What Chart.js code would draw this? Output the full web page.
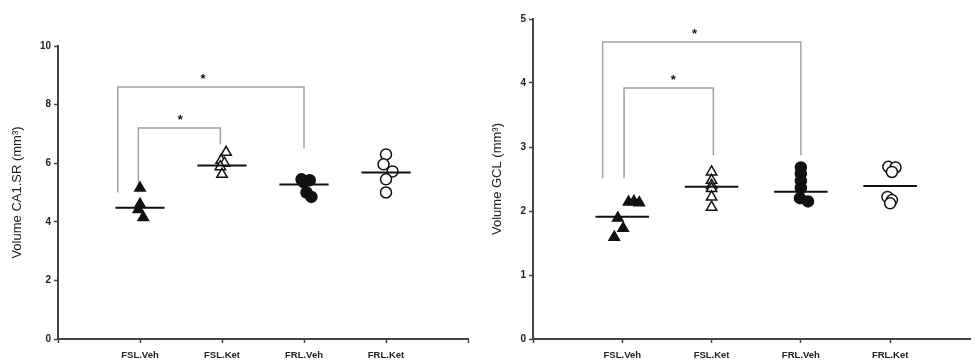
<!DOCTYPE html>
<html>
<head>
<meta charset="utf-8">
<script src="https://cdn.jsdelivr.net/npm/chart.js@4"></script>
<style>
  body { margin: 0; background: #fff; }
  #wrap { position: relative; width: 978px; height: 362px; overflow: hidden; }
  canvas { position: absolute; top: 0; }
  #leftChart { left: 0; }
  #rightChart { left: 480px; }
</style>
</head>
<body>
<div id="wrap">
  <canvas id="leftChart" width="480" height="362"></canvas>
  <canvas id="rightChart" width="498" height="362"></canvas>
</div>
<script>
const categories = ["FSL.Veh", "FSL.Ket", "FRL.Veh", "FRL.Ket"];

// CA1.SR volume (mm3), one array per group
const ca1Values = [
    [5.15, 4.6, 4.42, 4.15],
    [6.37, 6.1, 6.0, 5.88, 5.62],
    [5.45, 5.42, 5.35, 5.0, 4.85],
    [6.3, 5.96, 5.72, 5.45, 5.0]
];
const ca1Jitter = [
    [0.0, 0.0, -0.02, 0.04],
    [0.05, -0.01, 0.03, -0.02, 0.0],
    [-0.03, 0.07, 0.0, 0.03, 0.09],
    [0.0, -0.03, 0.08, 0.0, 0.0]
];
const ca1Means = [4.48, 5.92, 5.27, 5.68];

// GCL volume (mm3)
const gclValues = [
    [2.14, 2.15, 2.13, 1.89, 1.73, 1.59],
    [2.61, 2.48, 2.40, 2.35, 2.22, 2.06],
    [2.68, 2.58, 2.47, 2.36, 2.20, 2.15],
    [2.69, 2.68, 2.61, 2.22, 2.17, 2.12]
];
const gclJitter = [
    [0.07, 0.13, 0.19, -0.05, 0.01, -0.09],
    [0.0, 0.0, 0.0, 0.0, 0.0, 0.0],
    [0.0, 0.0, 0.0, 0.0, -0.01, 0.08],
    [-0.02, 0.06, 0.02, -0.03, 0.02, 0.0]
];
const gclMeans = [1.91, 2.38, 2.30, 2.39];

// significance brackets: [xLeft, yLeft, yTop, xRight, yRight]
const ca1Brackets = [[0.73, 5.0, 8.6, 3.0, 6.5], [0.98, 5.0, 7.2, 1.98, 6.65]];
const ca1Stars = [[1.77, 8.95], [1.49, 7.55]];
const gclBrackets = [[0.78, 2.51, 4.64, 3.0, 2.87], [1.02, 2.51, 3.92, 2.02, 2.87]];
const gclStars = [[1.81, 4.8], [1.57, 4.08]];

const markerStyles = [
    { pointStyle: "triangle", fill: "#111", radius: 6 },
    { pointStyle: "triangle", fill: "#fff", radius: 6 },
    { pointStyle: "circle", fill: "#111", radius: 5.5 },
    { pointStyle: "circle", fill: "#fff", radius: 5.5 }
];

const starPlugin = {
    id: "stars",
    afterDatasetsDraw(chart, args, opts) {
        const c = chart.ctx;
        c.save();
        c.fillStyle = "#111";
        c.font = "bold 13px 'Liberation Sans', Arial, sans-serif";
        c.textAlign = "center";
        c.textBaseline = "middle";
        opts.points.forEach(p => {
            c.fillText("*", chart.scales.x.getPixelForValue(p[0]), chart.scales.y.getPixelForValue(p[1]) + 3);
        });
        c.restore();
    }
};

function makeChart(id, cfg) {
    const datasets = [];
    cfg.values.forEach((vals, i) => {
        const m = markerStyles[i];
        datasets.push({
            type: "scatter",
            data: vals.map((v, j) => ({ x: i + 1 + cfg.jitter[i][j], y: v })),
            pointStyle: m.pointStyle,
            pointRadius: m.radius,
            pointBackgroundColor: m.fill,
            pointBorderColor: "#111",
            pointBorderWidth: 1.5,
            order: 2
        });
        datasets.push({
            type: "line",
            data: [{ x: i + 1 - 0.3, y: cfg.means[i] }, { x: i + 1 + 0.3, y: cfg.means[i] }],
            borderColor: "#111",
            borderWidth: 2,
            pointRadius: 0,
            order: 1
        });
    });
    cfg.brackets.forEach(b => {
        datasets.push({
            type: "line",
            data: [{ x: b[0], y: b[1] }, { x: b[0], y: b[2] }, { x: b[3], y: b[2] }, { x: b[3], y: b[4] }],
            borderColor: "#a0a0a0",
            borderWidth: 1.5,
            pointRadius: 0,
            order: 3
        });
    });

    const fam = "'Liberation Sans', Arial, sans-serif";

    return new Chart(document.getElementById(id), {
        type: "scatter",
        data: { datasets: datasets },
        options: {
            responsive: false,
            animation: false,
            layout: { padding: { top: cfg.top, right: cfg.right, left: 0, bottom: 0 } },
            plugins: {
                legend: { display: false },
                tooltip: { enabled: false },
                stars: { points: cfg.stars }
            },
            scales: {
                x: {
                    type: "linear",
                    min: 0,
                    max: cfg.xMax,
                    afterFit: s => { s.height = 23; },
                    afterBuildTicks: s => { s.ticks = cfg.xTicks.map(v => ({ value: v })); },
                    border: { color: "#444", width: 2 },
                    grid: { drawOnChartArea: false, tickLength: 4, tickColor: "#444", tickWidth: 1.5 },
                    ticks: {
                        color: "#222",
                        font: { family: fam, size: 9.5, weight: "bold" },
                        padding: 7,
                        maxRotation: 0,
                        autoSkip: false,
                        callback: v => categories[v - 1] || ""
                    }
                },
                y: {
                    min: 0,
                    max: cfg.yMax,
                    afterFit: s => { s.width = cfg.axisLeft; },
                    border: { color: "#444", width: 2 },
                    grid: { drawOnChartArea: false, tickLength: 4, tickColor: "#444", tickWidth: 1.5 },
                    ticks: { stepSize: cfg.yStep, color: "#222", font: { family: fam, size: 10, weight: "bold" }, padding: 3 },
                    title: {
                        display: true,
                        text: cfg.title,
                        color: "#222",
                        font: { family: fam, size: cfg.titleSize },
                        padding: { top: 10, bottom: 0 }
                    }
                }
            }
        },
        plugins: [starPlugin]
    });
}

makeChart("leftChart", {
    values: ca1Values, jitter: ca1Jitter, means: ca1Means,
    brackets: ca1Brackets, stars: ca1Stars,
    title: "Volume CA1.SR (mm³)", titleSize: 13,
    yMax: 10, yStep: 2, xMax: 5, xTicks: [0, 1, 2, 3, 4, 5],
    top: 46, right: 12, axisLeft: 58
});

makeChart("rightChart", {
    values: gclValues, jitter: gclJitter, means: gclMeans,
    brackets: gclBrackets, stars: gclStars,
    title: "Volume GCL (mm³)", titleSize: 13,
    yMax: 5, yStep: 1, xMax: 4.9, xTicks: [0, 1, 2, 3, 4],
    top: 19, right: 0, axisLeft: 53
});
</script>
</body>
</html>
